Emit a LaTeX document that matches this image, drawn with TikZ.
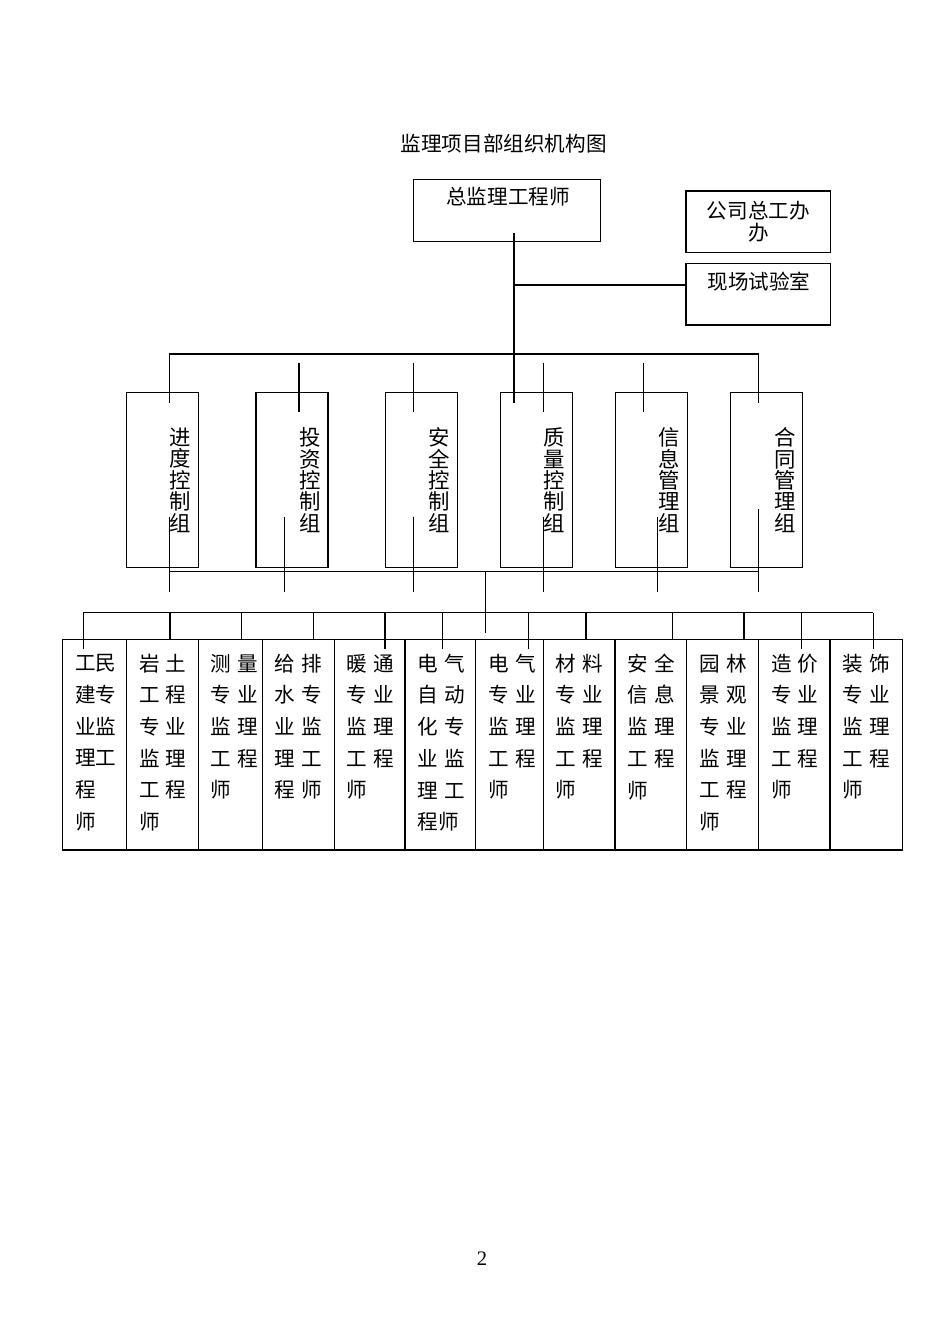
\documentclass[tikz,border=0pt]{standalone}
\usepackage{fontspec}
\setmainfont{Liberation Serif}
\newfontfamily\cjk{Noto Sans CJK SC}
\usetikzlibrary{positioning}
\newdimen\pxu \pxu=0.6266pt
\newcommand\gp{\hspace{3.9pt}}

\begin{document}
\begin{tikzpicture}[
      x=\pxu, y=-\pxu,
      ln/.style={line width=0.8pt, black},
      box/.style={rectangle, draw, line width=0.8pt, inner sep=0pt, outer sep=0pt},
      txt/.style={inner sep=0pt, font=\cjk\fontsize{12.9}{19.86}\selectfont},
      grp/.style={box, minimum width=72*\pxu, minimum height=175*\pxu, inner xsep=4.6pt,
        text width=36pt, align=right, font=\cjk\fontsize{13.4}{13.4}\selectfont},
      unit/.style={box, minimum height=210.7*\pxu},
      cell/.style={txt, anchor=west, align=left}
    ]
    \path[use as bounding box, fill=white] (0,0) rectangle (950,1344);

    \node[txt] (title) at (503.7,143.4) {监理项目部组织机构图};

    % top boxes
    \node[box, minimum width=187.4*\pxu, minimum height=62.4*\pxu] (chief) at (507,210.5) {};
    \node[txt] (chiefT) at (508,196.7) {总监理工程师};
    \node[box, minimum width=144.7*\pxu, minimum height=61.3*\pxu, align=center,
      font=\cjk\fontsize{12.9}{13.6}\selectfont] (office) at (758.3,221.7) {公司总工办\\办};
    \node[box, minimum width=144.7*\pxu, minimum height=61.7*\pxu] (lab) at (758.3,294.2) {};
    \node[txt] (labT) at (759,281.7) {现场试验室};

    % groups
    \node[grp] (sched) at (162.5,480.2) {进\\度\\控\\制\\组};
    \node[grp, right=35.9pt of sched] (cost) {投\\资\\控\\制\\组};
    \node[grp, right=36pt of cost] (safe) {安\\全\\控\\制\\组};
    \node[grp, right=26.9pt of safe] (qual) {质\\量\\控\\制\\组};
    \node[grp, right=26.9pt of qual] (info) {信\\息\\管\\理\\组};
    \node[grp, right=26.9pt of info] (contr) {合\\同\\管\\理\\组};

    % engineers
    \node[unit, minimum width=64.4*\pxu] (civ) at (94.5,744.65) {};
    \node[unit, minimum width=71.6*\pxu, right=0pt of civ] (geo) {};
    \node[unit, minimum width=64*\pxu, right=0pt of geo] (surv) {};
    \node[unit, minimum width=72*\pxu, right=0pt of surv] (plumb) {};
    \node[unit, minimum width=70.7*\pxu, right=0pt of plumb] (hvac) {};
    \node[unit, minimum width=70.7*\pxu, right=0pt of hvac] (elauto) {};
    \node[unit, minimum width=67.6*\pxu, right=0pt of elauto] (elec) {};
    \node[unit, minimum width=71.7*\pxu, right=0pt of elec] (mat) {};
    \node[unit, minimum width=71.7*\pxu, right=0pt of mat] (secinfo) {};
    \node[unit, minimum width=71.6*\pxu, right=0pt of secinfo] (land) {};
    \node[unit, minimum width=71.7*\pxu, right=0pt of land] (price) {};
    \node[unit, minimum width=72.3*\pxu, right=0pt of price] (deco) {};

    \node[cell] (civT) at (74.7,742.6) {工民\\建专\\业监\\理工\\程\\师};
    \node[cell] (geoT) at (138.7,742.6) {岩\gp 土\\工\gp 程\\专\gp 业\\监\gp 理\\工\gp 程\\师};
    \node[cell] (survT) at (210.5,726.7) {测\gp 量\\专\gp 业\\监\gp 理\\工\gp 程\\师};
    \node[cell] (plumbT) at (274.5,726.7) {给\gp 排\\水\gp 专\\业\gp 监\\理\gp 工\\程\gp 师};
    \node[cell] (hvacT) at (346.4,726.7) {暖\gp 通\\专\gp 业\\监\gp 理\\工\gp 程\\师};
    \node[cell] (elautoT) at (417.2,742.6) {电\gp 气\\自\gp 动\\化\gp 专\\业\gp 监\\理\gp 工\\程师};
    \node[cell] (elecT) at (488,726.7) {电\gp 气\\专\gp 业\\监\gp 理\\工\gp 程\\师};
    \node[cell] (matT) at (555.5,726.7) {材\gp 料\\专\gp 业\\监\gp 理\\工\gp 程\\师};
    \node[cell] (secinfoT) at (627.2,726.7) {安\gp 全\\信\gp 息\\监\gp 理\\工\gp 程\\师};
    \node[cell] (landT) at (699.2,742.6) {园\gp 林\\景\gp 观\\专\gp 业\\监\gp 理\\工\gp 程\\师};
    \node[cell] (priceT) at (770.7,726.7) {造\gp 价\\专\gp 业\\监\gp 理\\工\gp 程\\师};
    \node[cell] (decoT) at (842.5,726.7) {装\gp 饰\\专\gp 业\\监\gp 理\\工\gp 程\\师};

    \node[inner sep=0pt, font=\fontsize{12.9}{14}\selectfont] (page) at (482,1259) {2};

    % trunk and lab branch
    \coordinate (tTop) at (514,232.7);
    \coordinate (tBot) at (514,402.7);
    \coordinate (tLab) at (514,285);
    \draw[ln] (tTop) -- (tBot);
    \draw[ln] (tLab) -- (tLab -| lab.west);

    % bus over the groups
    \coordinate (sL) at (169.3,402.7);
    \coordinate (sR) at (758.7,402.7);
    \coordinate (busR) at (758.7,354);
    \draw[ln] (sL) |- (busR) -- (sR);
    \foreach \x in {299,413.7,543.3,643.3}
      \draw[ln] (\x,362.7) -- (\x,411.7);

    % bus under the groups
    \coordinate (lbL) at (169.3,571.7);
    \coordinate (lbR) at (758.7,571.7);
    \coordinate (dn) at (485.5,632.7);
    \draw[ln] (lbL) -- (lbR);
    \draw[ln] (lbL -| dn) -- (dn);
    \foreach \x in {169.3,284.3,413.7,543.3,657.7}
      \draw[ln] (\x,516.7) -- (\x,591.7);
    \draw[ln] (758.7,509.3) -- (758.7,591.7);

    % bus over the engineers
    \coordinate (ubL) at (83.3,612.7);
    \coordinate (ubR) at (873.3,612.7);
    \draw[ln] (ubL) -- (ubR);
    \foreach \x in {170,241.7,313.3,586,672.7,744}
      \draw[ln] (\x,612.7) -- (\x,639.3);
    \foreach \x in {83.3,385,442.7,528.7,801.7,873.3}
      \draw[ln] (\x,612.7) -- (\x,648.5);
  \end{tikzpicture}
\end{document}
